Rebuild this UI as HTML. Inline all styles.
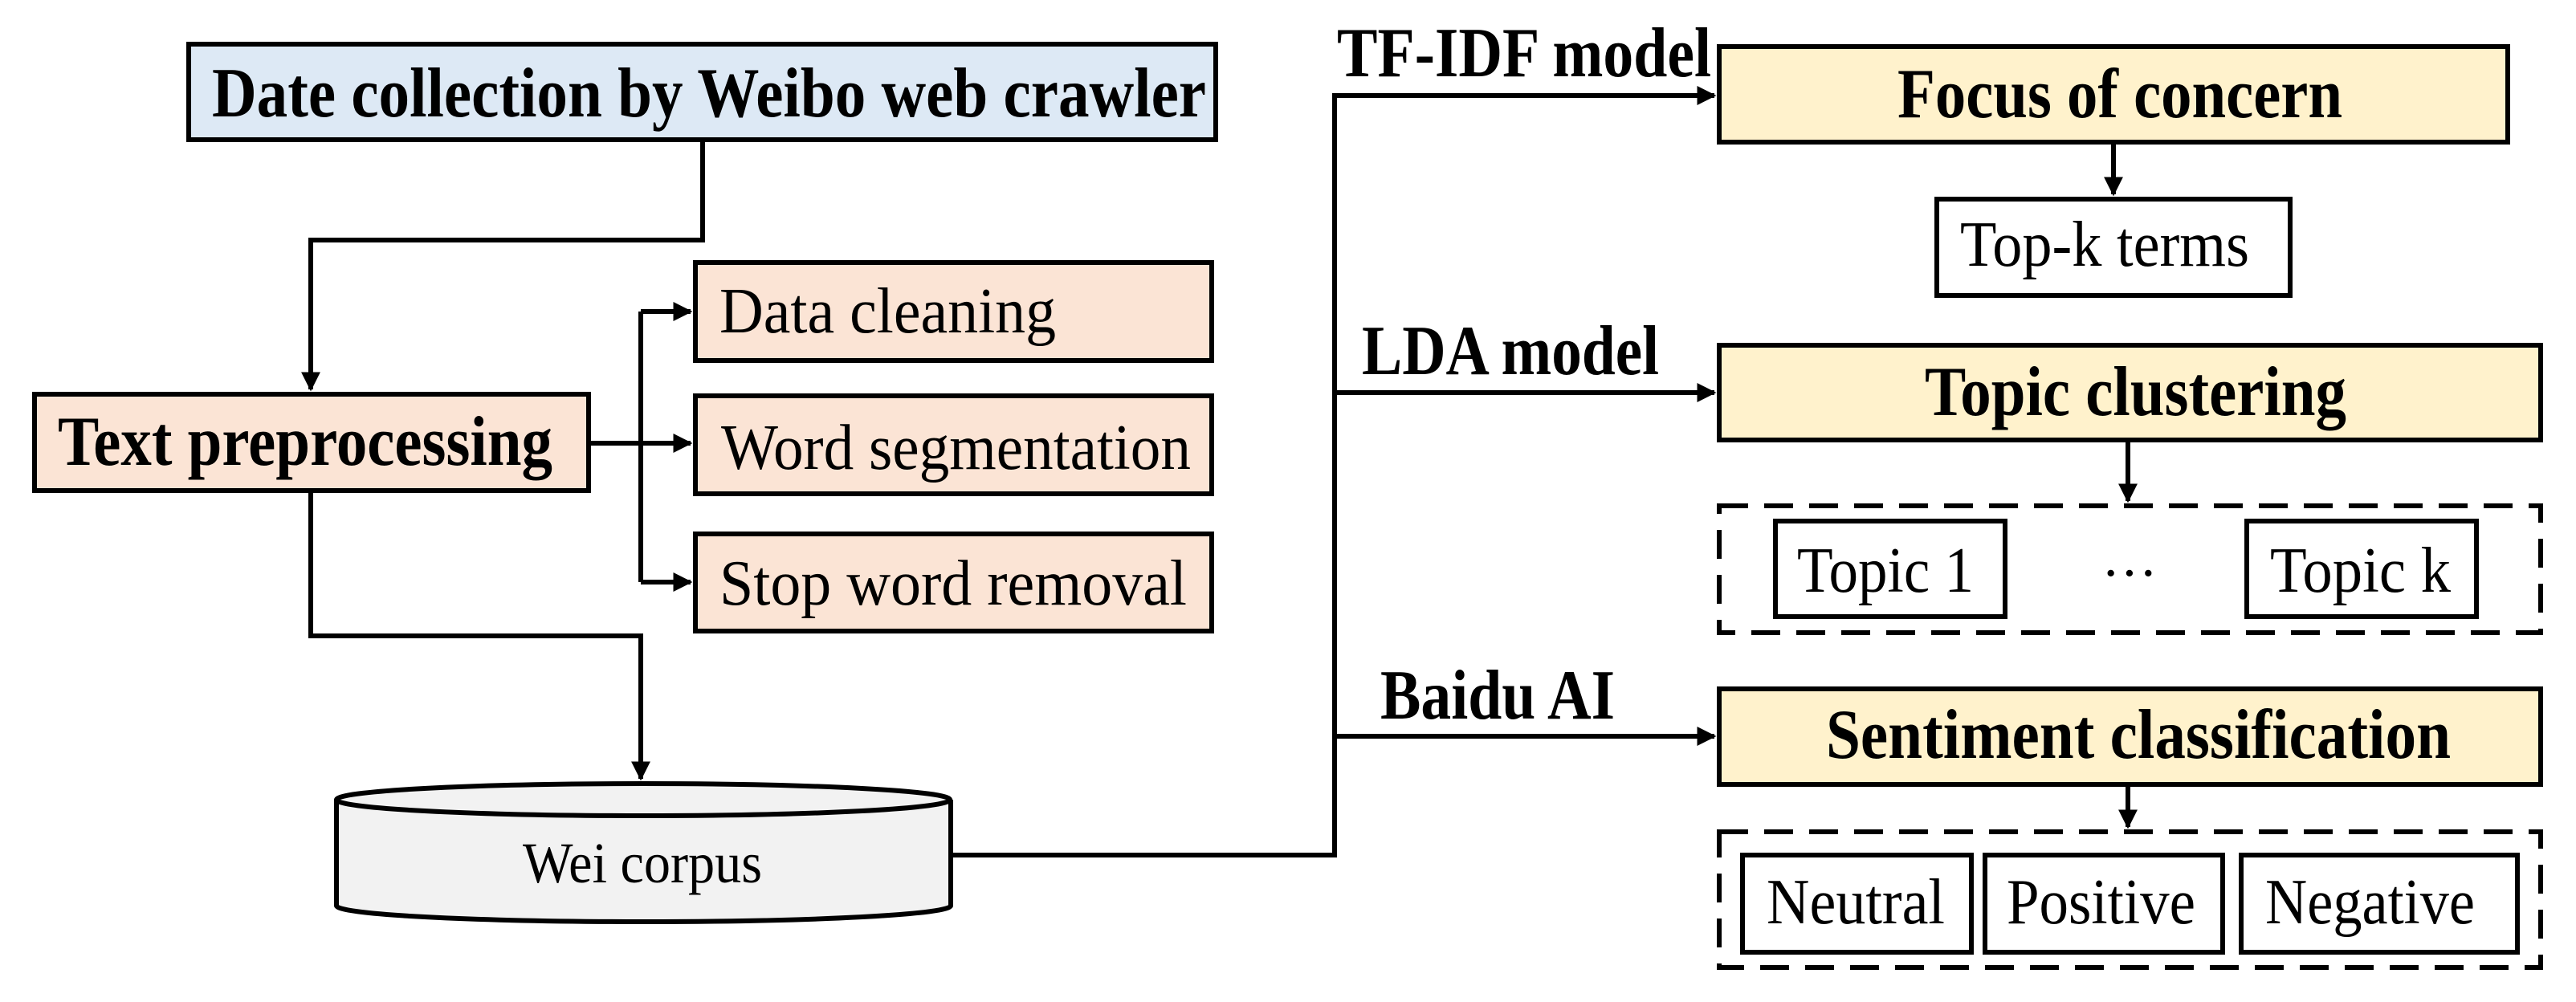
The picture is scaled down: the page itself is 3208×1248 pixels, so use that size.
<!DOCTYPE html>
<html><head><meta charset="utf-8"><style>html,body{margin:0;padding:0;background:#fff}svg{display:block}</style></head>
<body>
<svg width="3208" height="1248" viewBox="0 0 3208 1248" xmlns="http://www.w3.org/2000/svg">
<defs>
<marker id="a" viewBox="0 0 10 10" refX="9" refY="5" markerWidth="4" markerHeight="4" orient="auto" markerUnits="strokeWidth"><path d="M0,0L10,5L0,10z" fill="#000"/></marker>
</defs>
<g stroke="#000" stroke-width="6" fill="none" font-family="Liberation Serif, serif">
<rect x="235" y="55" width="1279" height="119" fill="#dde9f5"/>
<rect x="43" y="491" width="690" height="120" fill="#fbe4d5"/>
<rect x="866" y="327" width="643" height="122" fill="#fbe4d5"/>
<rect x="866" y="493" width="643" height="122" fill="#fbe4d5"/>
<rect x="866" y="665" width="643" height="121" fill="#fbe4d5"/>
<rect x="2141" y="58" width="982" height="119" fill="#fff2cc"/>
<rect x="2412" y="248" width="440" height="120" fill="#fff"/>
<rect x="2141" y="430" width="1023" height="118" fill="#fff2cc"/>
<rect x="2141" y="630" width="1023" height="158" stroke-dasharray="36,20"/>
<rect x="2211" y="649" width="286" height="119" fill="#fff"/>
<rect x="2798" y="649" width="286" height="119" fill="#fff"/>
<rect x="2141" y="858" width="1023" height="119" fill="#fff2cc"/>
<rect x="2141" y="1036" width="1023" height="169" stroke-dasharray="36,20"/>
<rect x="2170" y="1065" width="285" height="121" fill="#fff"/>
<rect x="2472" y="1065" width="296" height="121" fill="#fff"/>
<rect x="2791" y="1065" width="344" height="121" fill="#fff"/>
<path d="M419,996 L419,1128 A382,20 0 0 0 1184,1128 L1184,996" fill="#f2f2f2"/>
<ellipse cx="801" cy="996" rx="382" ry="20" fill="#f2f2f2"/>
<polyline points="875,174 875,299 387,299 387,485" marker-end="url(#a)"/>
<polyline points="733,552 860,552" marker-end="url(#a)"/>
<polyline points="798,388 860,388" marker-end="url(#a)"/>
<polyline points="798,725 860,725" marker-end="url(#a)"/>
<line x1="798" y1="388" x2="798" y2="725"/>
<polyline points="387,611 387,792 798,792 798,970" marker-end="url(#a)"/>
<polyline points="1184,1065 1662,1065 1662,119 2135,119" marker-end="url(#a)"/>
<polyline points="1662,489 2135,489" marker-end="url(#a)"/>
<polyline points="1662,917 2135,917" marker-end="url(#a)"/>
<polyline points="2632,177 2632,242" marker-end="url(#a)"/>
<polyline points="2650,548 2650,624" marker-end="url(#a)"/>
<polyline points="2650,977 2650,1030" marker-end="url(#a)"/>
</g>
<g font-family="Liberation Serif, serif" fill="#000" font-size="88">
<g font-weight="bold">
<text x="264" y="145" textLength="1238" lengthAdjust="spacingAndGlyphs">Date collection by Weibo web crawler</text>
<text x="72" y="579" textLength="616" lengthAdjust="spacingAndGlyphs">Text preprocessing</text>
<text x="2363" y="146" textLength="554" lengthAdjust="spacingAndGlyphs">Focus of concern</text>
<text x="2397" y="517" textLength="525" lengthAdjust="spacingAndGlyphs">Topic clustering</text>
<text x="2274" y="944" textLength="778" lengthAdjust="spacingAndGlyphs">Sentiment classification</text>
<text x="1665" y="95" textLength="466" lengthAdjust="spacingAndGlyphs">TF-IDF model</text>
<text x="1696" y="466" textLength="370" lengthAdjust="spacingAndGlyphs">LDA model</text>
<text x="1719" y="895" textLength="292" lengthAdjust="spacingAndGlyphs">Baidu AI</text>
</g>
<g font-size="80">
<text x="896" y="414" textLength="419" lengthAdjust="spacingAndGlyphs">Data cleaning</text>
<text x="898" y="584" textLength="585" lengthAdjust="spacingAndGlyphs">Word segmentation</text>
<text x="896" y="753" textLength="582" lengthAdjust="spacingAndGlyphs">Stop word removal</text>
<text x="2441" y="331" textLength="360" lengthAdjust="spacingAndGlyphs">Top-k terms</text>
<text x="2238" y="737" textLength="220" lengthAdjust="spacingAndGlyphs">Topic 1</text>
<text x="2827" y="737" textLength="225" lengthAdjust="spacingAndGlyphs">Topic k</text>
<text x="2617" y="737" font-size="70">···</text>
<text x="2200" y="1150" textLength="222" lengthAdjust="spacingAndGlyphs">Neutral</text>
<text x="2499" y="1150" textLength="235" lengthAdjust="spacingAndGlyphs">Positive</text>
<text x="2821" y="1150" textLength="261" lengthAdjust="spacingAndGlyphs">Negative</text>
</g>
<text x="651" y="1099" font-size="72" textLength="298" lengthAdjust="spacingAndGlyphs">Wei corpus</text>
</g>
</svg>
</body></html>
